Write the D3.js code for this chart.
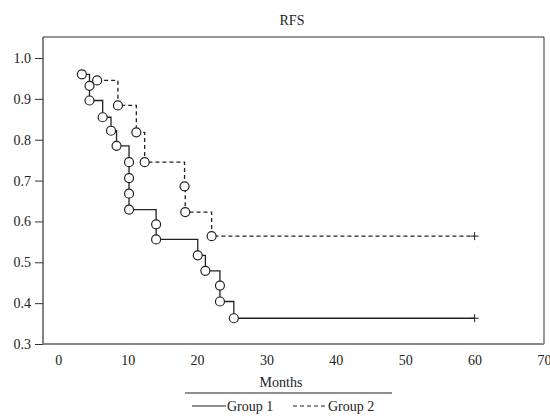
<!DOCTYPE html>
<html>
<head>
<meta charset="utf-8">
<script src="https://cdn.jsdelivr.net/npm/d3@7"></script>
<style>
    body { margin: 0; background: #fff; }
    svg text { font-family: "Liberation Serif", "Times New Roman", serif; fill: #222; }
</style>
</head>
<body>
<div id="vis"></div>
<script>
// event times (months) and survival level after each event
var group1Times = [3.4, 4.5, 4.5, 6.4, 7.6, 8.4, 10.2, 10.2, 10.2, 10.2, 14.1, 14.1, 20.1, 21.2, 23.3, 23.3, 25.3];
var group1Surv  = [0.960, 0.932, 0.896, 0.855, 0.822, 0.785, 0.745, 0.706, 0.668, 0.629, 0.593, 0.556, 0.517, 0.479, 0.443, 0.404, 0.363];
var group2Times = [5.6, 8.6, 11.25, 12.45, 18.2, 18.3, 22.1];
var group2Surv  = [0.945, 0.884, 0.818, 0.745, 0.686, 0.623, 0.564];
var lastFollowUp = [60, 60]; // censored at end, per group
var yTicks = [0.3, 0.4, 0.5, 0.6, 0.7, 0.8, 0.9, 1.0];
var xTicks = [0, 10, 20, 30, 40, 50, 60, 70];
var seriesNames = ["Group 1", "Group 2"];

var width = 550,
    height = 420,
    margin = { top: 37, right: 6, bottom: 76, left: 43 };

var x = d3.scaleLinear()
    .domain([-2.2, 70])
    .range([margin.left, width - margin.right]);

var y = d3.scaleLinear()
    .domain([0.3, 1.0])
    .range([344, 58]);

var svg = d3.select("#vis").append("svg")
    .attr("width", width)
    .attr("height", height);

// frame top + right
svg.append("path")
    .attr("d", "M" + margin.left + "," + margin.top + "H" + x(70) + "V" + y(0.3))
    .attr("fill", "none")
    .attr("stroke", "#333")
    .attr("stroke-width", 1);

var yAxis = d3.axisLeft(y)
    .tickValues(yTicks)
    .tickFormat(d3.format(".1f"))
    .tickSize(8)
    .tickPadding(4);

var gy = svg.append("g")
    .attr("transform", "translate(" + margin.left + ",0)")
    .call(yAxis);
gy.select(".domain").remove();
gy.selectAll(".tick line").attr("stroke", "#333");
gy.selectAll("text").style("font-size", "14px");
svg.append("line")
    .attr("x1", margin.left).attr("x2", margin.left)
    .attr("y1", margin.top).attr("y2", y(0.3))
    .attr("stroke", "#333").attr("stroke-width", 1.2);

var xAxis = d3.axisBottom(x)
    .tickValues(xTicks)
    .tickSize(0)
    .tickPadding(11);

var gx = svg.append("g")
    .attr("transform", "translate(0," + y(0.3) + ")")
    .call(xAxis);
gx.select(".domain").remove();
gx.selectAll("text").style("font-size", "14px");
svg.append("line")
    .attr("x1", margin.left).attr("x2", x(70))
    .attr("y1", y(0.3)).attr("y2", y(0.3))
    .attr("stroke", "#888").attr("stroke-width", 2);

// step curves
var line = d3.line()
    .x(function(d) { return x(d.t); })
    .y(function(d) { return y(d.s); })
    .curve(d3.curveStepAfter);

function makeSeries(times, surv, end) {
    var pts = times.map(function(t, i) { return { t: t, s: surv[i] }; });
    return { pts: pts, end: { t: end, s: surv[surv.length - 1] } };
}

var series = [
    makeSeries(group1Times, group1Surv, lastFollowUp[0]),
    makeSeries(group2Times, group2Surv, lastFollowUp[1])
];
var dashes = [null, "4,3"];

series.forEach(function(ser, i) {
    svg.append("path")
        .datum(ser.pts.concat([ser.end]))
        .attr("fill", "none")
        .attr("stroke", "#222")
        .attr("stroke-width", 1.3)
        .attr("stroke-dasharray", dashes[i])
        .attr("d", line);

    svg.selectAll(".pt" + i)
        .data(ser.pts)
        .enter().append("circle")
        .attr("class", "pt" + i)
        .attr("cx", function(d) { return x(d.t); })
        .attr("cy", function(d) { return y(d.s); })
        .attr("r", 4.5)
        .attr("fill", "#fff")
        .attr("stroke", "#222")
        .attr("stroke-width", 1.2);

    // censor mark
    svg.append("path")
        .attr("d", "M" + (x(ser.end.t) - 4) + "," + y(ser.end.s) + "h8M" + x(ser.end.t) + "," + (y(ser.end.s) - 4) + "v8")
        .attr("stroke", "#222")
        .attr("stroke-width", 1);
});

// title and x label
svg.append("text")
    .attr("x", 292).attr("y", 25)
    .attr("text-anchor", "middle")
    .style("font-size", "14px")
    .text("RFS");

svg.append("text")
    .attr("x", 281).attr("y", 387)
    .attr("text-anchor", "middle")
    .style("font-size", "14px")
    .text("Months");

// legend
svg.append("line")
    .attr("x1", 185).attr("x2", 392)
    .attr("y1", 393).attr("y2", 393)
    .attr("stroke", "#222").attr("stroke-width", 1.2);

var legendX = [192, 293];
seriesNames.forEach(function(name, i) {
    svg.append("line")
        .attr("x1", legendX[i]).attr("x2", legendX[i] + 34)
        .attr("y1", 406).attr("y2", 406)
        .attr("stroke", "#222").attr("stroke-width", 1.2)
        .attr("stroke-dasharray", dashes[i]);
    svg.append("text")
        .attr("x", legendX[i] + 35).attr("y", 411)
        .style("font-size", "14px")
        .text(name);
});
</script>
</body>
</html>
